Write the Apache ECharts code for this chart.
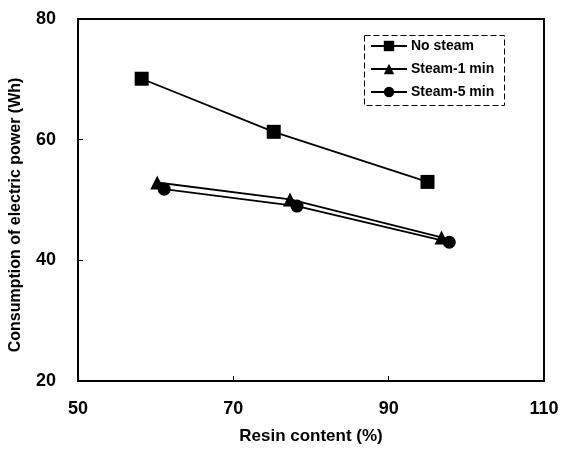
<!DOCTYPE html>
<html>
<head>
<meta charset="utf-8">
<script src="https://cdn.jsdelivr.net/npm/echarts@6/dist/echarts.min.js"></script>
<style>
  html, body { margin: 0; padding: 0; background: #fff; }
  #chart { width: 569px; height: 450px; }
</style>
</head>
<body>
<div id="chart"></div>
<script>
// values: [resin content %, power Wh]
var noSteam = [[58.2, 70.1], [75.2, 61.3], [95, 53.0]]
var steam1 = [[60.2, 52.9], [77.3, 50.1], [96.8, 43.8]]
var steam5 = [[61.1, 51.8], [78.2, 49.0], [97.8, 43.0]]
var seriesNames = ['No steam', 'Steam-1 min', 'Steam-5 min']
var symbols = ['rect', 'triangle', 'circle']

var font = 'Liberation Sans, Arial, sans-serif'

var chart = echarts.init(document.getElementById('chart'))

function makeSeries(name, data, symbol, size) {
  return {
    name: name,
    type: 'line',
    data: data,
    symbol: symbol,
    symbolSize: size,
    itemStyle: { color: '#000' },
    lineStyle: { color: '#000', width: 1.8 },
    animation: false
  }
}

chart.setOption({
  backgroundColor: '#fff',
  grid: {
    left: 77,
    right: 25,
    top: 19,
    bottom: 68,
    show: true,
    borderColor: '#000',
    borderWidth: 2
  },
  legend: {
    orient: 'vertical',
    left: 365,
    top: 34,
    itemWidth: 36,
    itemHeight: 13,
    itemGap: 9,
    data: seriesNames,
    textStyle: { fontFamily: font, fontSize: 14, fontWeight: 'bold', color: '#000', padding: [0, 0, 0, -1] }
  },
  graphic: [{
    type: 'rect',
    left: 362,
    top: 33,
    shape: { width: 140, height: 70 },
    style: { fill: 'none', stroke: '#000', lineWidth: 1, lineDash: [6, 3] }
  }],
  xAxis: {
    type: 'value',
    min: 50,
    max: 110,
    interval: 20,
    name: 'Resin content (%)',
    nameLocation: 'middle',
    nameGap: 47,
    nameTextStyle: { fontFamily: font, fontSize: 17, fontWeight: 'bold', color: '#000' },
    axisLine: { lineStyle: { color: '#000', width: 2 } },
    axisTick: { inside: true, length: 5, lineStyle: { color: '#000', width: 1 } },
    axisLabel: { fontFamily: font, fontSize: 18, fontWeight: 'bold', color: '#000', margin: 19 },
    splitLine: { show: false }
  },
  yAxis: {
    type: 'value',
    min: 20,
    max: 80,
    interval: 20,
    name: 'Consumption of electric power (Wh)',
    nameLocation: 'middle',
    nameGap: 54,
    nameTextStyle: { fontFamily: font, fontSize: 16, fontWeight: 'bold', color: '#000', padding: [0, 0, 0, -30] },
    axisLine: { lineStyle: { color: '#000', width: 2 } },
    axisTick: { inside: true, length: 5, lineStyle: { color: '#000', width: 1 } },
    axisLabel: { fontFamily: font, fontSize: 18, fontWeight: 'bold', color: '#000', margin: 22 },
    splitLine: { show: false }
  },
  series: [
    makeSeries(seriesNames[0], noSteam, symbols[0], 14),
    makeSeries(seriesNames[1], steam1, symbols[1], 14),
    makeSeries(seriesNames[2], steam5, symbols[2], 13)
  ]
})
</script>
</body>
</html>
